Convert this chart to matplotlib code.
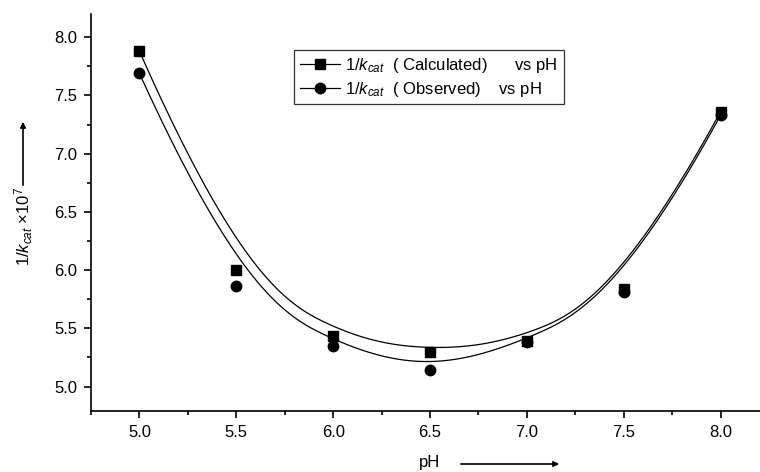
import numpy as np
import matplotlib.pyplot as plt
from matplotlib.ticker import MultipleLocator

plt.rcParams['font.family'] = ['Liberation Sans', 'DejaVu Sans']
plt.rcParams['mathtext.fontset'] = 'custom'
plt.rcParams['mathtext.rm'] = 'Liberation Sans'
plt.rcParams['mathtext.it'] = 'Liberation Sans:italic'

# data
ph = [5.0, 5.5, 6.0, 6.5, 7.0, 7.5, 8.0]
calc = [7.88, 6.00, 5.43, 5.30, 5.39, 5.84, 7.36]
obs = [7.69, 5.86, 5.35, 5.14, 5.38, 5.81, 7.33]
legend_labels = [r'1/$k_{cat}$  ( Calculated)      vs pH',
                 r'1/$k_{cat}$  ( Observed)    vs pH']


def bspline(px, py, n=300):
    # clamped cubic B-spline, data points used as control points (Origin style)
    px, py = np.asarray(px), np.asarray(py)
    m = len(px)
    k = 3
    knots = np.concatenate([np.zeros(k), np.arange(m - k + 1), np.full(k, m - k)])
    t = np.linspace(0, m - k, n)
    t[-1] -= 1e-9

    def basis(i, d, t):
        if d == 0:
            return ((knots[i] <= t) & (t < knots[i + 1])).astype(float)
        out = np.zeros_like(t)
        den1 = knots[i + d] - knots[i]
        den2 = knots[i + d + 1] - knots[i + 1]
        if den1 > 0:
            out += (t - knots[i]) / den1 * basis(i, d - 1, t)
        if den2 > 0:
            out += (knots[i + d + 1] - t) / den2 * basis(i + 1, d - 1, t)
        return out

    B = np.array([basis(i, k, t) for i in range(m)])
    return B.T @ px, B.T @ py


fig = plt.figure(figsize=(7.6, 4.72), dpi=100)
ax = fig.add_axes([91/760, 1 - 411/472, (769 - 91)/760, (411 - 14)/472])

for y, mk in [(calc, 's'), (obs, 'o')]:
    cx, cy = bspline(ph, y)
    ax.plot(cx, cy, color='black', lw=0.9)
    ax.plot(ph, y, linestyle='none', marker=mk, color='black', markersize=7.5)

# legend proxies
h1, = ax.plot([], [], color='black', lw=0.9, marker='s', markersize=7.5)
h2, = ax.plot([], [], color='black', lw=0.9, marker='o', markersize=7.5)
leg = ax.legend([h1, h2], legend_labels, loc='upper left',
                bbox_to_anchor=(0.3, 0.91), fontsize=12, frameon=True,
                fancybox=False, handlelength=2.4, borderpad=0.35,
                labelspacing=0.3, handletextpad=0.3, borderaxespad=0)
leg.get_frame().set_edgecolor('black')
leg.get_frame().set_linewidth(0.9)

ax.set_xlim(4.75, 8.25)
ax.set_ylim(4.79, 8.2)
ax.xaxis.set_major_locator(MultipleLocator(0.5))
ax.xaxis.set_minor_locator(MultipleLocator(0.25))
ax.yaxis.set_major_locator(MultipleLocator(0.5))
ax.yaxis.set_minor_locator(MultipleLocator(0.25))
ax.xaxis.set_major_formatter(plt.FormatStrFormatter('%.1f'))
ax.yaxis.set_major_formatter(plt.FormatStrFormatter('%.1f'))
ax.tick_params(which='major', direction='out', length=5, width=1.2, labelsize=12, pad=5)
ax.tick_params(which='minor', direction='out', length=3, width=1.2)
ax.spines['top'].set_visible(False)
ax.spines['right'].set_visible(False)
for s in ['left', 'bottom']:
    ax.spines[s].set_linewidth(1.2)

# axis titles with arrows, as in the original
fig.text(24/760, 1 - 226/472, r'1/$k_{cat}$ ×10$^{7}$', rotation=90,
         ha='center', va='center', fontsize=12)
ax.annotate('', xy=(23/760, 1 - 119/472), xytext=(23/760, 1 - 188/472),
            xycoords='figure fraction',
            arrowprops=dict(arrowstyle='-|>', color='black', lw=1.2,
                            mutation_scale=8))
fig.text(430/760, 1 - 463/472, 'pH', ha='center', va='center', fontsize=12)
ax.annotate('', xy=(562/760, 1 - 464/472), xytext=(458/760, 1 - 464/472),
            xycoords='figure fraction',
            arrowprops=dict(arrowstyle='-|>', color='black', lw=1.2,
                            mutation_scale=8))

fig.savefig('out.png', dpi=100)
